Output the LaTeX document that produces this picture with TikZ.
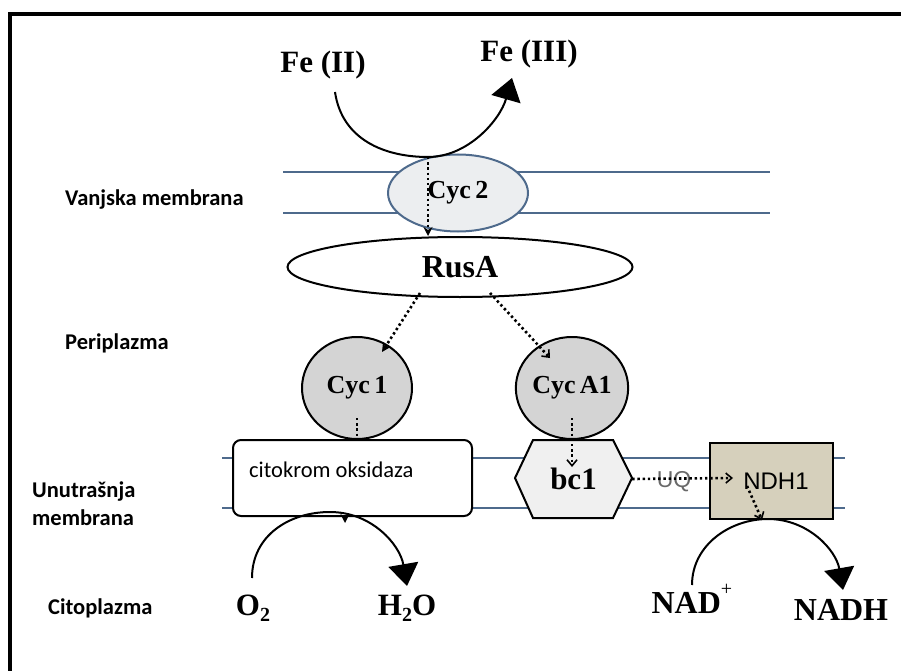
\documentclass[tikz,border=0pt]{standalone}
\usepackage{fontspec}
\setmainfont{Liberation Serif}
\newfontfamily\calibfont{Carlito}
\newfontfamily\arialfont{Liberation Sans}
\usetikzlibrary{shapes.geometric,arrows.meta,calc}
\definecolor{membc}{RGB}{78,106,140}
\definecolor{cycfill}{RGB}{212,212,212}
\definecolor{cyctwofill}{RGB}{236,238,240}
\definecolor{bcfill}{RGB}{240,240,240}
\definecolor{ndhfill}{RGB}{214,208,188}
\definecolor{uqgray}{RGB}{105,105,105}
\begin{document}
\begin{tikzpicture}[x=1pt,y=-1pt,
  chem/.style={font=\bfseries\fontsize{31}{36}\selectfont},
  protlabel/.style={font=\bfseries\fontsize{26}{30}\selectfont},
  sidelabel/.style={font=\calibfont\bfseries\fontsize{22.5}{27}\selectfont, anchor=west, inner sep=0pt},
  memline/.style={draw=membc, line width=2.4pt},
  dots/.style={line width=2.6pt, dash pattern=on 2.4pt off 2.8pt},
  bigtip/.style={line width=2pt, -{Triangle[length=22pt,width=30pt]}},
  smalltip/.style={-{Stealth[length=9pt,width=9pt]}},
  opentip/.style={-{Straight Barb[length=6pt,width=10pt,line width=1.6pt]}},
  protein/.style={ellipse, draw, line width=2pt, inner sep=0pt}
]
\useasboundingbox (0,0) rectangle (901,671);
% frame
\draw[line width=4pt] (10,671) -- (10,14) -- (901,14);

% side labels
\node[sidelabel] (lvanj) at (65,200) {Vanjska membrana};
\node[sidelabel] (lperi) at (65,343) {Periplazma};
\node[sidelabel, align=left, anchor=north west] (lunut) at (32,482) {Unutrašnja\\[1pt]membrana};
\node[sidelabel] (lcito) at (48,608) {Citoplazma};

% membranes
\draw[memline] (283,172) -- (770,172);
\draw[memline] (283,213) -- (770,213);
\draw[memline] (222,458) -- (845,458);
\draw[memline] (222,508) -- (845,508);

% proteins
\node[protein, draw=membc, fill=cyctwofill, minimum width=140pt, minimum height=77pt, protlabel] (cyc2) at (458,193) {Cyc\,2};
\node[protein, fill=white, minimum width=345pt, minimum height=60pt, font=\bfseries\fontsize{32}{36}\selectfont] (rusa) at (460,267) {RusA};
\node[protein, fill=cycfill, minimum width=110pt, minimum height=102pt, protlabel] (cyc1) at (357,388) {Cyc\,1};
\node[protein, fill=cycfill, minimum width=110pt, minimum height=102pt, protlabel] (cyca1) at (572,388) {Cyc\,A1};
\node[draw, line width=2pt, fill=white, rounded corners=8pt, minimum width=239pt, minimum height=76pt, inner sep=0pt] (cox) at (352.5,478) {};
\node[anchor=west, inner sep=0pt, font=\calibfont\fontsize{22.5}{26}\selectfont] (coxtext) at (249,470) {citokrom oksidaza};
\draw[line width=2pt, fill=bcfill] (515,478) -- (533,440) -- (613,440) -- (632,478) -- (613,518) -- (533,518) -- cycle;
\node[minimum width=117pt, inner sep=0pt, font=\bfseries\fontsize{31}{36}\selectfont] (bc1) at (573.5,479) {bc1};
\node[draw, line width=2pt, fill=ndhfill, minimum width=123pt, minimum height=76pt, inner sep=0pt] (ndh) at (771.5,481) {};
\node[inner sep=0pt, font=\arialfont\fontsize{24}{28}\selectfont] (ndhtext) at (776,481) {NDH1};
\node[inner sep=0pt, text=uqgray, font=\arialfont\fontsize{23}{28}\selectfont] (uq) at (674,482) {UQ};

% chemical species
\node[chem, anchor=base] (fe2) at (323,73) {Fe (II)};
\node[chem, anchor=base] (fe3) at (529,62) {Fe (III)};
\node[chem, anchor=base] (o2) at (253,615) {O\raisebox{-0.22em}{\fontsize{20}{20}\selectfont 2}};
\node[chem, anchor=base] (h2o) at (407,615) {H\raisebox{-0.22em}{\fontsize{20}{20}\selectfont 2}O};
\node[chem, anchor=base west, font=\bfseries\fontsize{32}{36}\selectfont] (nad) at (648,613) {NAD\raisebox{0.55em}{\mdseries\fontsize{20}{20}\selectfont +}};
\node[chem, anchor=base, font=\bfseries\fontsize{32}{36}\selectfont] (nadh) at (841,620) {NADH};

% reaction curves
\coordinate (fes) at (335,92);
\coordinate (fem) at (428,157);
\coordinate (fee) at (512,78);
\draw[bigtip] (fes) .. controls (342,140) and (385,157) .. (fem)
  .. controls (468,157) and (500,120) .. (fee);

\coordinate (os) at (252,578);
\coordinate (om) at (330,512);
\coordinate (oe) at (407,586);
\draw[bigtip] (os) .. controls (252,535) and (290,512) .. (om)
  .. controls (372,512) and (400,545) .. (oe);

\coordinate (ns) at (692,585);
\coordinate (nm) at (768,519);
\coordinate (ne) at (843,590);
\draw[bigtip] (ns) .. controls (692,545) and (730,519) .. (nm)
  .. controls (808,519) and (836,550) .. (ne);

% electron transfer (dotted)
\coordinate (c2top) at (428,157);
\draw[dots, smalltip] (c2top) -- (rusa.north -| c2top);
\draw[dots, smalltip] (420,293) -- (382,352);
\draw[dots, opentip] (490,293) -- (550,358);
\draw[dots] (cyc1.center |- 0,418) -- (cyc1.center |- cox.north);
\coordinate (coxb) at (345,516);
\draw[smalltip, line width=1.5pt] (coxb) -- (345,523);
\draw[dots, opentip] (cyca1.center |- 0,418) -- (572,467);
\coordinate (uqend) at (733,478);
\draw[dots, opentip] (bc1.east) -- (uqend);
\coordinate (ndhin) at (747,486);
\draw[dots, opentip] (ndhin) -- (762,520);
\end{tikzpicture}
\end{document}
